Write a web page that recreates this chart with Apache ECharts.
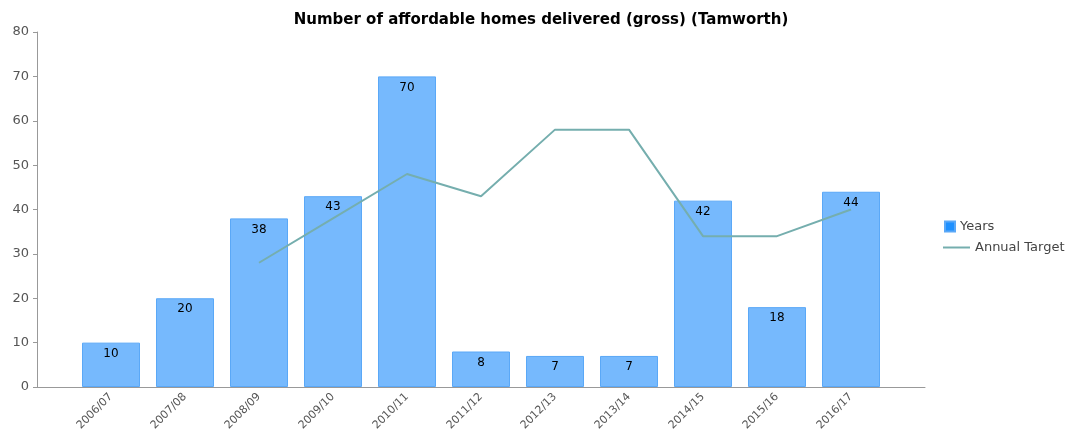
<!DOCTYPE html>
<html>
<head>
<meta charset="utf-8">
<script src="https://cdn.jsdelivr.net/npm/echarts@6/dist/echarts.min.js"></script>
<style>html,body{margin:0;padding:0;background:#fff}#c{width:1075px;height:439px}</style>
</head>
<body>
<div id="c"></div>
<script>
const categories = ['2006/07','2007/08','2008/09','2009/10','2010/11','2011/12','2012/13','2013/14','2014/15','2015/16','2016/17'];
const years = [10,20,38,43,70,8,7,7,42,18,44];
const annualTarget = [null,null,28,38,48,43,58,58,34,34,40];
const yTicks = {min:0,max:80,interval:10};

const chart = echarts.init(document.getElementById('c'));
const font = 'Verdana, "DejaVu Sans", sans-serif';
const axisColor = '#999';
chart.setOption({
  animation:false,
  title:{text:'Number of affordable homes delivered (gross) (Tamworth)',left:536,textAlign:'center',top:8,
    textStyle:{fontFamily:font,fontSize:15,fontWeight:'bold',color:'#000'}},
  grid:[
    {left:74,right:187,top:32,bottom:52,containLabel:false},
    {left:37,right:150,top:32,bottom:52,containLabel:false}
  ],
  legend:[
    {orient:'vertical',left:939,top:215,itemWidth:10,itemHeight:10,itemGap:6,
      textStyle:{fontFamily:font,fontSize:13,color:'#444'},
      data:[{name:'Years',icon:'rect',itemStyle:{color:'#1e90ff'}}]},
    {orient:'vertical',left:938,top:236,itemWidth:27,itemHeight:2,itemGap:4,
      textStyle:{fontFamily:font,fontSize:13,color:'#444'},
      data:[{name:'Annual Target',icon:'rect',itemStyle:{color:'#75aeae'}}]}
  ],
  xAxis:[
    {type:'category',data:categories,gridIndex:0,
      axisLine:{show:false},
      axisTick:{alignWithLabel:true,length:4,lineStyle:{color:axisColor}},
      axisLabel:{rotate:45,fontFamily:font,fontSize:11,color:'#555',margin:8}},
    {type:'value',gridIndex:1,min:0,max:1,
      axisLine:{show:true,onZero:false,lineStyle:{color:axisColor}},
      axisTick:{show:false},axisLabel:{show:false},splitLine:{show:false}}
  ],
  yAxis:[
    {type:'value',gridIndex:0,min:yTicks.min,max:yTicks.max,interval:yTicks.interval,show:false,splitLine:{show:false}},
    {type:'value',gridIndex:1,min:yTicks.min,max:yTicks.max,interval:yTicks.interval,
      splitLine:{show:false},
      axisLine:{show:true,lineStyle:{color:axisColor}},
      axisTick:{show:true,length:4,lineStyle:{color:axisColor}},
      axisLabel:{fontFamily:font,fontSize:13,color:'#555',margin:8}}
  ],
  series:[
    {name:'Years',type:'bar',data:years,barWidth:58,xAxisIndex:0,yAxisIndex:0,
      itemStyle:{color:'#76b9fd',borderColor:'#5aa8f7',borderWidth:1},
      label:{show:true,position:'insideTop',distance:5,fontFamily:font,fontSize:12,color:'#000'}},
    {name:'Annual Target',type:'line',data:annualTarget,symbol:'none',xAxisIndex:0,yAxisIndex:0,
      lineStyle:{color:'#75aeae',width:2},itemStyle:{color:'#75aeae'}}
  ]
});
</script>
</body>
</html>
